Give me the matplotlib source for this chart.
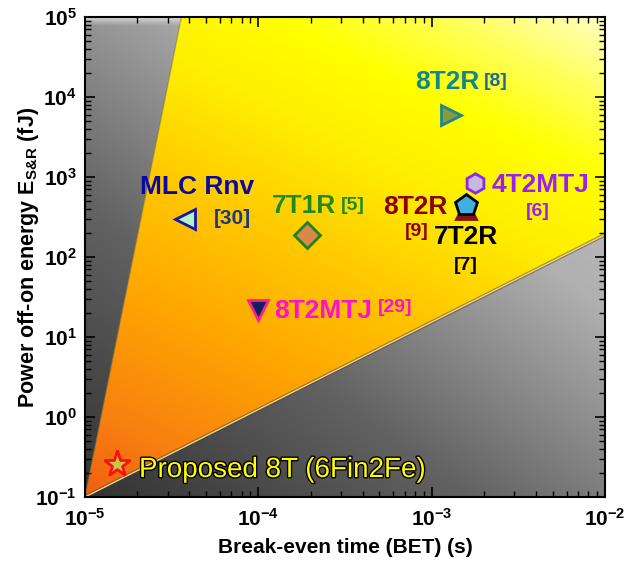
import numpy as np
import matplotlib
matplotlib.use("Agg")
import matplotlib.pyplot as plt
from matplotlib.patches import Polygon
from matplotlib.colors import LinearSegmentedColormap
import matplotlib.patheffects as pe
from matplotlib.ticker import FixedLocator, FuncFormatter, NullFormatter
from matplotlib.mathtext import MathTextParser
from matplotlib import font_manager
import warnings
warnings.filterwarnings('ignore')

def has_font(name):
    try:
        font_manager.findfont(font_manager.FontProperties(family=name, weight='bold'),
                              fallback_to_default=False)
        return True
    except Exception:
        return False

narrow = 'Liberation Sans Narrow' if has_font('Liberation Sans Narrow') else 'Liberation Sans'

plt.rcParams['font.family'] = ['Liberation Sans', 'DejaVu Sans']
plt.rcParams['mathtext.fontset'] = 'custom'
plt.rcParams['mathtext.rm'] = narrow + ':bold'
plt.rcParams['mathtext.bf'] = 'Liberation Sans:bold'
plt.rcParams['mathtext.it'] = 'Liberation Sans:bold'
plt.rcParams['mathtext.default'] = 'rm'

# ---- data ----
names = ["MLC Rnv", "7T1R", "8T2R", "4T2MTJ", "8T2R", "7T2R", "8T2MTJ", "Proposed 8T (6Fin2Fe)"]
refs = ["[30]", "[5]", "[8]", "[6]", "[9]", "[7]", "[29]", ""]
bet = [3.8e-5, 1.9e-4, 1.3e-3, 1.78e-3, 1.58e-3, 1.58e-3, 1.0e-4, 1.53e-5]
energy = [300, 190, 6000, 840, 400, 450, 22, 0.26]
markers = ['<', 'D', '>', 'h', '^', 'p', 'v', '*']
faces = ['#b8f0c8', '#d88848', '#8a9a40', '#c8b8e0', '#8b1010', '#40b0e0', '#102060', '#c8c840']
edges = ['#1818a8', '#208020', '#208888', '#8a2be2', '#8b1010', '#000000', '#ff2090', '#ff1010']
sizes = [15, 13, 15, 14, 14, 16, 15, 20]
label_colors = ['#0a0aa0', '#208a20', '#108888', '#9a20f0', '#8b0000', '#000000', '#ff10d0', '#ffff00']
ref_colors = ['#1a3a80', '#208a20', '#1a6a9a', '#9a20f0', '#8b0000', '#000000', '#ff10d0', '#ffff00']

x_decades = [-5, -4, -3, -2]
y_decades = [-1, 0, 1, 2, 3, 4, 5]

# wedge boundaries (BET, energy)
upper_bound_x = [1e-5, 3.6e-5]
upper_bound_y = [0.1, 1e5]
lower_bound_x = [1e-5, 1e-2]
lower_bound_y = [0.1, 190]

xlim = (1e-5, 1e-2)
ylim = (1e-1, 1e5)

fig = plt.figure(figsize=(6.35, 5.65), dpi=100)
ax = fig.add_axes([85/635, 1-497/565, 520/635, 480/565])
ax.set_xscale('log')
ax.set_yscale('log')

# gray background gradient (diagonal, axes coordinates)
n = 300
u, v = np.meshgrid(np.linspace(0, 1, n), np.linspace(0, 1, n))
t_gray = (0.45 * u + 0.55 * v)
gray_cmap = LinearSegmentedColormap.from_list('g', ['#333333', '#626262', '#b0b0b0', '#c8c8c8'])
ax.imshow(t_gray, extent=[0, 1, 0, 1], origin='lower', transform=ax.transAxes,
          cmap=gray_cmap, vmin=0, vmax=1, aspect='auto', zorder=0, interpolation='bilinear')

# top bevel highlight over the gray area
bev = np.linspace(0, 1, 50).reshape(-1, 1)
bevel_cmap = LinearSegmentedColormap.from_list('b', [(0.85, 0.85, 0.85, 0.0), (0.9, 0.9, 0.9, 0.85)])
ax.imshow(bev, extent=[0, 1, 0.982, 1.0], origin='lower', transform=ax.transAxes,
          cmap=bevel_cmap, vmin=0, vmax=1, aspect='auto', zorder=0.5, interpolation='bilinear')

# wedge gradient
t_w = np.clip(0.35 * u + 0.65 * v, 0, 1)
wedge_cmap = LinearSegmentedColormap.from_list('w', [(0, '#f06010'), (0.12, '#f88010'),
                                                     (0.32, '#ffa800'), (0.5, '#ffcc00'),
                                                     (0.65, '#ffee00'), (0.78, '#ffff00'),
                                                     (0.9, '#ffff60'), (1.0, '#ffffc0')])
im = ax.imshow(t_w, extent=[0, 1, 0, 1], origin='lower', transform=ax.transAxes,
               cmap=wedge_cmap, vmin=0, vmax=1, aspect='auto', zorder=1, interpolation='bilinear')
ax.set_xlim(*xlim)
ax.set_ylim(*ylim)
poly = Polygon([(upper_bound_x[0], upper_bound_y[0]), (upper_bound_x[1], upper_bound_y[1]),
                (xlim[1], ylim[1]), (lower_bound_x[1], lower_bound_y[1])],
               closed=True, transform=ax.transData, facecolor='none', edgecolor='none')
ax.add_patch(poly)
im.set_clip_path(poly)

# boundary lines
ax.plot(lower_bound_x, lower_bound_y, color='#4a3a10', lw=2.6, alpha=0.5, zorder=2)
ax.plot(lower_bound_x, lower_bound_y, color='#e8d8a0', lw=1.0, zorder=2)
ax.plot(upper_bound_x, upper_bound_y, color='#8a7a30', lw=1.0, alpha=0.5, zorder=2)

ax.set_xlim(*xlim)
ax.set_ylim(*ylim)

# markers
for i in range(len(bet)):
    ax.plot(bet[i], energy[i], marker=markers[i], ms=sizes[i], mfc=faces[i], mec=edges[i],
            mew=2, ls='none', zorder=5 if i != 4 else 4)

# labels (text positions in axes fraction)
def txt(x, y, s, color, size, ha='center', **kw):
    ax.text((x - 85) / 520, (497 - y) / 480, s, color=color, fontsize=size, fontweight='bold',
            ha=ha, va='center', transform=ax.transAxes, zorder=6, **kw)

txt(197, 187, names[0], label_colors[0], 19)
txt(232, 218, refs[0], ref_colors[0], 15)
txt(304, 206, names[1], label_colors[1], 19)
txt(353, 205, refs[1], ref_colors[1], 14)
txt(447, 82, names[2], label_colors[2], 19)
txt(496, 82, refs[2], ref_colors[2], 14)
txt(541, 185, names[3], label_colors[3], 19)
txt(538, 212, refs[3], ref_colors[3], 14)
txt(415, 207, names[4], label_colors[4], 19)
txt(417, 231, refs[4], ref_colors[4], 14)
txt(466, 237, names[5], label_colors[5], 19)
txt(466, 265, refs[5], ref_colors[5], 14)
txt(323, 311, names[6], label_colors[6], 19)
txt(395, 307, refs[6], ref_colors[6], 14)
ax.text((139 - 85) / 520, (497 - 470) / 480, names[7], color=label_colors[7], fontsize=20,
        ha='left', va='center', transform=ax.transAxes, zorder=6,
        path_effects=[pe.withStroke(linewidth=2, foreground='black')])

# ticks
def fmt(val, pos):
    e = int(round(np.log10(val)))
    return r'$10^{%d}$' % e

x_major = [10.0 ** d for d in x_decades]
y_major = [10.0 ** d for d in y_decades]
x_minor = [m * 10.0 ** d for d in x_decades[:-1] for m in range(2, 10)]
y_minor = [m * 10.0 ** d for d in y_decades[:-1] for m in range(2, 10)]
ax.xaxis.set_major_locator(FixedLocator(x_major))
ax.yaxis.set_major_locator(FixedLocator(y_major))
ax.xaxis.set_minor_locator(FixedLocator(x_minor))
ax.yaxis.set_minor_locator(FixedLocator(y_minor))
ax.xaxis.set_major_formatter(FuncFormatter(fmt))
ax.yaxis.set_major_formatter(FuncFormatter(fmt))
ax.xaxis.set_minor_formatter(NullFormatter())
ax.yaxis.set_minor_formatter(NullFormatter())
ax.tick_params(which='both', direction='in', top=True, right=True, zorder=7)
ax.tick_params(which='major', length=7, width=1.2, labelsize=15, pad=8)
ax.tick_params(axis='y', which='major', pad=6)
ax.tick_params(which='minor', length=4, width=1)
for s in ax.spines.values():
    s.set_linewidth(1.5)
    s.set_zorder(8)

ax.set_xlabel('Break-even time (BET) (s)', fontsize=15, fontweight='bold', labelpad=6)

ylab = None
for cand in [r'Power off-on energy E$_{\mathbf{S&R}}$ (fJ)', r'Power off-on energy E$_{S&R}$ (fJ)']:
    try:
        MathTextParser('agg').parse(cand.split('$')[1].join('$$'), dpi=100)
        ylab = cand
        break
    except Exception:
        pass
if ylab is None:
    ylab = 'Power off-on energy E (fJ)'
ax.set_ylabel(ylab, fontsize=15.5, fontweight='bold')
ax.yaxis.set_label_coords((41 - 85) / 520, 0.5)

fig.savefig('out.png', dpi=100)
